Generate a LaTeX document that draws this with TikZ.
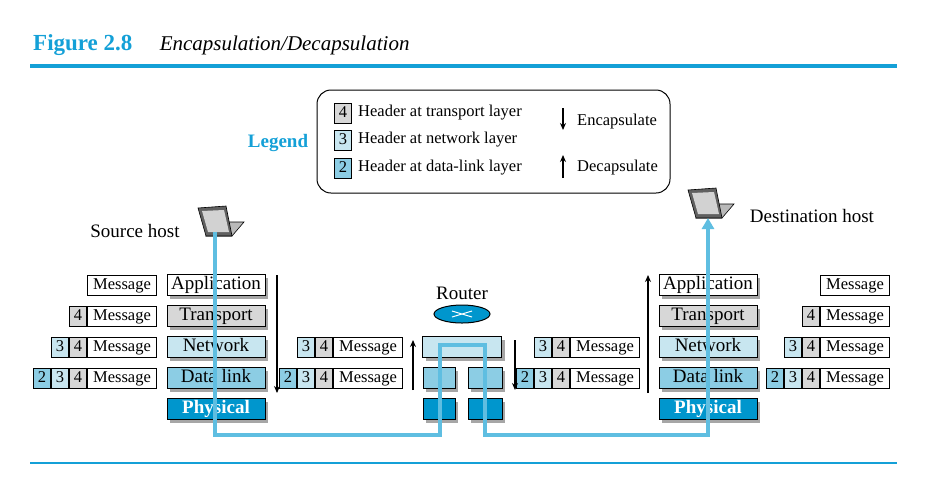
\documentclass[tikz,border=0pt]{standalone}
\usepackage{fontspec}
\setmainfont{Liberation Serif}
\usetikzlibrary{positioning,shadows,arrows.meta,shapes.geometric}
\definecolor{figblue}{RGB}{20,160,215}
\definecolor{pathblue}{RGB}{95,190,225}
\definecolor{hgrey}{RGB}{215,215,215}
\definecolor{hlight}{RGB}{200,230,240}
\definecolor{hmid}{RGB}{140,205,228}
\definecolor{hdark}{RGB}{0,150,205}
\tikzset{
  txt/.style={font=\fontsize{16.5}{18}\selectfont, inner sep=0pt},
  cell/.style={draw, line width=1pt, minimum height=20pt, inner sep=0pt, text height=11pt, text depth=3pt,
    font=\fontsize{16.5}{18}\selectfont, anchor=east},
  msg/.style={cell, fill=white, minimum width=69pt},
  hfour/.style={cell, fill=hgrey, minimum width=17pt},
  hthree/.style={cell, fill=hlight, minimum width=17pt},
  htwo/.style={cell, fill=hmid, minimum width=17pt},
  layer/.style={draw, line width=1pt, minimum width=98pt, minimum height=21pt, inner sep=0pt, text height=13pt, text depth=4pt,
    font=\fontsize{19}{20}\selectfont, drop shadow={shadow xshift=3pt, shadow yshift=-3pt, fill=gray!70, opacity=1}},
  rbox/.style={draw, line width=1pt, minimum height=21pt, inner sep=0pt,
    drop shadow={shadow xshift=3pt, shadow yshift=-3pt, fill=gray!70, opacity=1}},
  flow/.style={-{Stealth[length=7pt,width=6pt]}, line width=1.2pt},
  wire/.style={pathblue, line width=3.5pt},
}
% message row: #1 = right end, #2 = y, #3 = headers
\newcommand{\msgrow}[4]{%
  \node[msg] (#4m) at (#1,#2) {Message};
  \ifnum#3>0 \node[hfour, left=0pt of #4m.west, anchor=east] (#4h4) {4};\fi
  \ifnum#3>1 \node[hthree, left=0pt of #4h4.west, anchor=east] (#4h3) {3};\fi
  \ifnum#3>2 \node[htwo, left=0pt of #4h3.west, anchor=east] (#4h2) {2};\fi
}
\newcommand{\laptop}[1]{%
  \begin{scope}[shift={(#1)}]
    \fill[gray!55, draw=black, line width=0.6pt] (-12,6) -- (14,6) -- (26,-8) -- (2,-8) -- cycle;
    \fill[gray!75!black, draw=black, line width=0.6pt] (-12,6) -- (-20,-22) -- (8,-24) -- (14,6) -- cycle;
    \fill[gray!35] (-10,2) -- (-16,-19) -- (6,-20) -- (11,2) -- cycle;
  \end{scope}}
\begin{document}
\begin{tikzpicture}[x=1pt, y=-1pt]
  \useasboundingbox (0,0) rectangle (932,480);
  % title
  \node[anchor=west, text=figblue, font=\fontsize{23}{25}\selectfont\bfseries, inner sep=0pt] (fig) at (33,45) {Figure 2.8};
  \node[anchor=west, font=\fontsize{21}{23}\selectfont\itshape, inner sep=0pt, right=27pt of fig] (title) {Encapsulation/Decapsulation};
  \fill[figblue] (30,64) rectangle (897,68);
  \draw[figblue, line width=1.3pt] (30,463) -- (897,463);

  % legend
  \node[txt, text=figblue, font=\fontsize{19}{20}\selectfont\bfseries] (legend) at (278,143) {Legend};
  \draw[line width=1pt, rounded corners=14pt] (317,90) rectangle (670,193);
  \node[hfour, anchor=center] (l4) at (343,113) {4};
  \node[hthree, anchor=center] (l3) at (343,140) {3};
  \node[htwo, anchor=center] (l2) at (343,168) {2};
  \node[txt, anchor=west, right=6pt of l4] {Header at transport layer};
  \node[txt, anchor=west, right=6pt of l3] {Header at network layer};
  \node[txt, anchor=west, right=6pt of l2] {Header at data-link layer};
  \coordinate (e1) at (563,108); \coordinate (e2) at (563,130);
  \coordinate (d1) at (563,178); \coordinate (d2) at (563,155);
  \draw[flow] (e1) -- (e2);
  \draw[flow] (d1) -- (d2);
  \node[txt, anchor=west] at (577,122) {Encapsulate};
  \node[txt, anchor=west] at (577,168) {Decapsulate};

  % hosts
  \node[txt, font=\fontsize{19}{20}\selectfont] at (135,231) {Source host};
  \node[txt, font=\fontsize{19}{20}\selectfont] at (812,216) {Destination host};

  % stacks
  \foreach \x/\s in {216/L, 708/R}{
    \node[layer, fill=white] (\s app) at (\x,285) {Application};
    \node[layer, fill=hgrey] (\s tra) at (\x,316) {Transport};
    \node[layer, fill=hlight] (\s net) at (\x,347) {Network};
    \node[layer, fill=hmid] (\s dl) at (\x,378) {Data link};
    \node[layer, fill=hdark, text=white, font=\fontsize{19}{20}\selectfont\bfseries] (\s phy) at (\x,409) {Physical};
  }
  % messages
  \msgrow{157}{285}{0}{a}
  \msgrow{157}{316}{1}{b}
  \msgrow{157}{347}{2}{c}
  \msgrow{157}{378}{3}{d}
  \msgrow{403}{347}{2}{e}
  \msgrow{403}{378}{3}{f}
  \msgrow{640}{347}{2}{g}
  \msgrow{640}{378}{3}{h}
  \msgrow{890}{285}{0}{i}
  \msgrow{890}{316}{1}{j}
  \msgrow{890}{347}{2}{k}
  \msgrow{890}{378}{3}{l}

  % router
  \node[txt, font=\fontsize{19}{20}\selectfont] (rlabel) at (462,293) {Router};
  \node[draw, ellipse, fill=hdark, minimum width=56pt, minimum height=18pt, line width=1pt, below=5pt of rlabel] (router) {};
  \draw[white, line width=1pt] ([xshift=-10pt,yshift=-3pt]router.center) -- ([xshift=10pt,yshift=3pt]router.center)
    ([xshift=-10pt,yshift=3pt]router.center) -- ([xshift=10pt,yshift=-3pt]router.center);
  \node[rbox, fill=hlight, minimum width=79pt] (rnet) at (462,347) {};
  \node[rbox, fill=hmid, minimum width=32pt] (rdl1) at (439,378) {};
  \node[rbox, fill=hmid, minimum width=34pt] (rdl2) at (485,378) {};
  \node[rbox, fill=hdark, minimum width=32pt] (rph1) at (439,409) {};
  \node[rbox, fill=hdark, minimum width=34pt] (rph2) at (485,409) {};

  % direction arrows
  \coordinate (a1) at (277,275); \coordinate (a2) at (277,393);
  \coordinate (b1) at (413,390); \coordinate (b2) at (413,340);
  \coordinate (c1) at (515,340); \coordinate (c2) at (515,390);
  \coordinate (f1) at (648,393); \coordinate (f2) at (648,275);
  \draw[flow] (a1) -- (a2);
  \draw[flow] (b1) -- (b2);
  \draw[flow] (c1) -- (c2);
  \draw[flow] (f1) -- (f2);

  % laptops
  \laptop{(218,230)}
  \laptop{(708,212)}
  \coordinate (src) at (215,232);
  \coordinate (dst) at (708,218);

  % signal path
  \draw[wire, -{Triangle[length=11pt,width=12pt]}] (src) |- (440,435) |- (485,345) |- (708,435) -- (dst);
\end{tikzpicture}
\end{document}
